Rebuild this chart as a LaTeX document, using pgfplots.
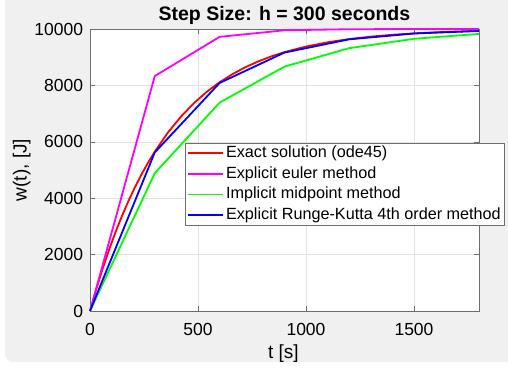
\documentclass[border=0pt]{standalone}
\usepackage{pgfplots}
\pgfplotsset{compat=1.18}
\usepackage{fontspec}
\setmainfont{Liberation Sans}
\definecolor{figbg}{RGB}{240,240,240}
\definecolor{mred}{RGB}{255,0,0}
\definecolor{mmag}{RGB}{255,0,255}
\definecolor{mgreen}{RGB}{0,255,0}
\definecolor{mblue}{RGB}{0,0,255}
\definecolor{axcol}{RGB}{110,110,110}
\definecolor{gridcol}{RGB}{226,226,226}
\begin{document}
\begin{tikzpicture}
\useasboundingbox (0pt,0pt) rectangle (508pt,370pt);
\begin{scope}
  \clip (0pt,0pt) rectangle (508pt,370pt);
  \fill[figbg, rounded corners=8pt] (5pt,8pt) rectangle (540pt,400pt);
\end{scope}
\begin{axis}[
  at={(90pt,59pt)}, anchor=south west,
  scale only axis, width=388.8pt, height=282pt,
  xmin=0, xmax=1800, ymin=0, ymax=10000,
  xtick={0,500,1000,1500}, ytick={0,2000,4000,6000,8000,10000},
  scaled ticks=false,
  /pgf/number format/1000 sep={},
  /pgf/number format/assume math mode=true,
  tick label style={font=\fontsize{17.5}{20}\selectfont},
  xticklabel style={anchor=base, yshift=-24pt},
  yticklabel style={anchor=east, inner sep=0pt, xshift=-6.7pt},
  axis background/.style={fill=white},
  axis line style={axcol, line width=0.6pt},
  major tick length=5pt,
  tick style={axcol, line width=0.6pt},
  grid=major,
  grid style={gridcol, line width=0.5pt},
  clip=false,
  title={\textbf{Step Size: h = 300 seconds}},
  every axis title shift=0pt,
  title style={at={(axis description cs:0.5,1)}, anchor=base, yshift=8.3pt,
    font=\fontsize{19.5}{22}\selectfont},
  xlabel={t [s]},
  xlabel style={at={(axis description cs:0.5,0)}, anchor=base, yshift=-47.5pt,
    xshift=-1pt, font=\fontsize{19}{22}\selectfont},
  ylabel={w(t), [J]},
  ylabel style={at={(axis description cs:-0.1757,0.5)}, anchor=center,
    font=\fontsize{19}{22}\selectfont},
  legend cell align=left,
  legend style={at={(axis description cs:0.2443,0.5968)}, anchor=north west,
    font=\fontsize{16.2}{19}\selectfont, draw=axcol, fill=white,
    line width=0.6pt, inner xsep=2pt, inner ysep=0pt,
    nodes={inner sep=2pt, text height=12.6pt, text depth=4pt}},
  legend image code/.code={
    \path (-7pt,0pt) -- (28pt,0pt);
    \draw[#1] (2pt,0pt) -- (28pt,0pt);
  },
]
% exact solution from ode45
\addplot[mred, line width=1.8pt] coordinates {
  (0,0) (30,800) (60,1535) (90,2212) (120,2835) (150,3408) (180,3935)
  (210,4420) (240,4866) (270,5276) (300,5654) (360,6321) (420,6886)
  (480,7364) (540,7769) (600,8111) (660,8401) (720,8647) (780,8854)
  (840,9030) (900,9179) (1000,9378) (1100,9529) (1200,9643) (1300,9730)
  (1400,9795) (1500,9845) (1600,9883) (1700,9911) (1800,9933)
};
\addlegendentry{Exact solution (ode45)}
% explicit Euler, h = 300 s
\addplot[mmag, line width=1.8pt] coordinates {
  (0,0) (300,8333) (600,9722) (900,9954) (1200,9992) (1500,9999) (1800,10000)
};
\addlegendentry{Explicit euler method}
% implicit midpoint
\addplot[mgreen, line width=1.8pt] coordinates {
  (0,0) (300,4890) (600,7389) (900,8666) (1200,9320) (1500,9653) (1800,9825)
};
\addlegendentry{Implicit midpoint method}
% classical RK4
\addplot[mblue, line width=1.8pt] coordinates {
  (0,0) (300,5625) (600,8086) (900,9163) (1200,9634) (1500,9840) (1800,9930)
};
\addlegendentry{Explicit Runge-Kutta 4th order method}
\end{axis}
\end{tikzpicture}
\end{document}
